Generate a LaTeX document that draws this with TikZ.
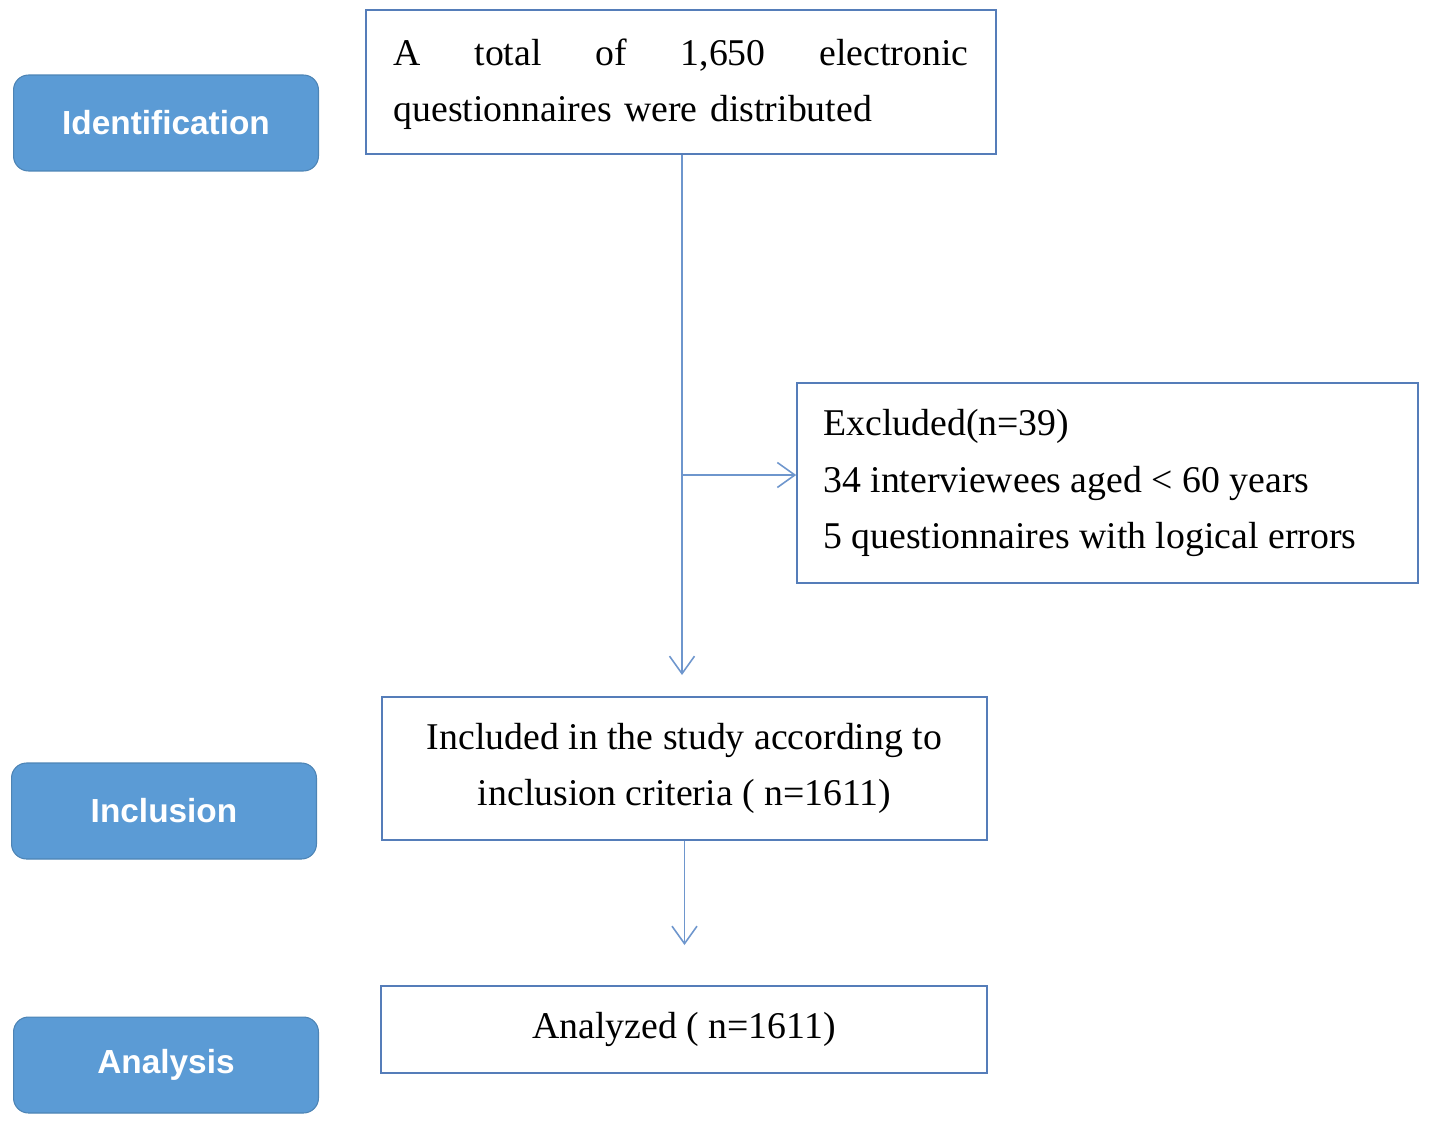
\documentclass[tikz,border=0pt]{standalone}
\usepackage{fontspec}
\usetikzlibrary{arrows.meta}
\setmainfont{Liberation Serif}
\newfontfamily\lbl{Liberation Sans}
\definecolor{stage}{RGB}{91,155,213}
\definecolor{frame}{RGB}{85,125,185}
\definecolor{arr}{RGB}{110,150,205}
\begin{document}
\begin{tikzpicture}[x=0.02cm,y=-0.02cm,
  stagebox/.style={rectangle,rounded corners=0.3cm,fill=stage,draw=stage!85!black,line width=0.6pt,
    minimum width=6.1cm,minimum height=1.92cm,text=white,font=\lbl\bfseries\fontsize{19}{22}\selectfont},
  box/.style={rectangle,draw=frame,line width=1pt,inner sep=0pt,font=\fontsize{21.5}{32}\selectfont},
  link/.style={draw=arr,line width=0.9pt,-{Straight Barb[length=0.35cm,width=0.5cm]}}]
\useasboundingbox (0,0) rectangle (1429,1123);
\node[stagebox] (id) at (166,123) {Identification};
\node[stagebox] (inc) at (164,811) {Inclusion};
\node[stagebox] (ana) at (166,1065) {Analysis};
\node[box,minimum width=12.6cm,minimum height=2.88cm] (top) at (681,82) {};
\node[font=\fontsize{21.5}{32}\selectfont,text width=11.5cm,align=left] at (681,84)
  {A\hfill total\hfill of\hfill 1,650\hfill electronic\\questionnaires were distributed};
\node[box,minimum width=12.42cm,minimum height=4cm] (exc) at (1107.5,483) {};
\node[font=\fontsize{21.5}{32}\selectfont,anchor=west,align=left,inner sep=0pt] at (823,483)
  {Excluded(n=39)\\34 interviewees aged < 60 years\\5 questionnaires with logical errors};
\node[box,minimum width=12.1cm,minimum height=2.86cm,align=center] (incl) at (684.5,768.5)
  {Included in the study according to\\inclusion criteria ( n=1611)};
\node[box,minimum width=12.12cm,minimum height=1.74cm] (anl) at (684,1029.5) {Analyzed ( n=1611)};
\coordinate (sp) at (682,475);
\coordinate (br) at (exc.west |- sp);
\coordinate (end) at (682,675);
\draw[draw=arr,line width=0.9pt] (top.south -| sp) -- (sp);
\draw[link] (sp) -- (br);
\draw[link] (sp) -- (end);
\draw[link] (incl.south) -- (684.5,945);
\end{tikzpicture}
\end{document}
